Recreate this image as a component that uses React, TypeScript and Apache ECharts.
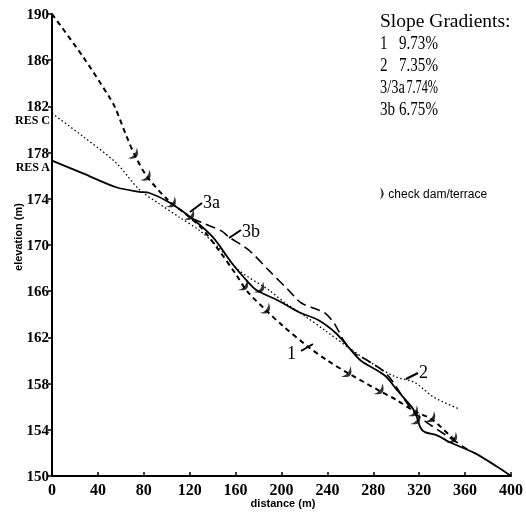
import React, { useEffect, useRef } from "react";
import * as echarts from "echarts";

// elevation base so that the axis starts on a tick (150 is not a multiple of 4)
const BASE = 150;
const X_MIN = 0;
const X_MAX = 400;
const X_INTERVAL = 40;
const Y_MIN = 150;
const Y_MAX = 190;
const Y_INTERVAL = 4;

// Profile 3 / 3a (solid)
const profile3a: [number, number][] = [
  [0, 177.3], [27, 176.2], [56, 175.0], [76, 174.6], [85, 174.5], [102, 173.7],
  [122, 172.3], [140, 170.7], [157, 168.4], [169, 167.0], [178, 166.1], [197, 165.2],
  [215, 164.2], [232, 163.5], [247, 162.4], [258, 161.2], [269, 160.0], [290, 158.7],
  [301, 157.4], [314, 155.9], [318, 155.1], [321, 154.2], [325, 153.8], [336, 153.5],
  [347, 152.9], [368, 152.0], [388, 150.8], [400, 150.0],
];

// Profile 3b (long dashes)
const profile3b: [number, number][] = [
  [122, 172.3], [134, 171.8], [148, 171.2], [154, 170.7], [171, 169.6], [189, 167.8],
  [206, 166.1], [217, 165.0], [229, 164.5], [238, 164.1], [246, 163.2], [255, 161.6],
  [264, 160.6], [275, 160.0], [292, 158.8], [316, 155.5], [353, 152.9], [362, 152.3],
];

// Profile 1 (short dashes)
const profile1: [number, number][] = [
  [0, 190.0], [27, 186.3], [50, 182.8], [55, 181.9], [65, 179.4], [72, 177.8],
  [83, 175.9], [101, 173.9], [115, 172.8], [130, 171.5], [145, 169.6], [160, 167.5],
  [170, 166.0], [187, 164.3], [200, 163.1], [223, 161.2], [240, 160.0], [258, 158.9],
  [285, 157.4], [300, 156.6], [316, 155.6], [331, 154.9], [349, 153.3], [352, 153.1],
];

// Profile 2 (dotted)
const profile2: [number, number][] = [
  [0, 181.4], [27, 179.4], [56, 177.1], [76, 174.8], [93, 173.6], [111, 172.4],
  [128, 171.3], [145, 169.8], [163, 167.8], [189, 166.1], [203, 165.0], [221, 163.8],
  [238, 162.6], [260, 161.0], [278, 159.8], [299, 158.6], [316, 158.1], [333, 156.8],
  [355, 155.8],
];

// check dams / terraces
const checkDams: [number, number][] = [
  [72, 177.8], [83, 175.9], [105, 173.6], [121, 172.5], [168, 166.4], [182, 166.2],
  [187, 164.4], [258, 158.9], [286, 157.4], [316, 155.5], [318, 154.8], [331, 155.0],
  [350, 153.2],
];

const gradientLabels = ["1", "2", "3/3a", "3b"];
const gradientValues = ["9.73%", "7.35%", "7.74%", "6.75%"];

const shift = (pts: [number, number][]) => pts.map(([x, y]) => [x, y - BASE]);

const SERIF = "'Liberation Serif', 'DejaVu Serif', serif";
const SANS = "'Liberation Sans', Arial, sans-serif";
const DAM = "path://M0,0 Q8,7 0,14 Q3.5,7 0,0 Z";

export default function App() {
  const ref = useRef<HTMLDivElement>(null);
  useEffect(() => {
    if (!ref.current) return;
    const chart = echarts.init(ref.current, undefined, { renderer: "svg" });
    const legendRows: any[] = [];
    gradientLabels.forEach((lab, i) => {
      const y = 43 + i * 22;
      const narrow = lab.length > 2;
      legendRows.push({
        type: "text", x: 380, y, scaleX: narrow ? 0.8 : 0.84,
        style: { text: lab, font: `18px ${SERIF}`, fill: "#000", textVerticalAlign: "middle" },
      });
      legendRows.push({
        type: "text", x: 438, y, scaleX: narrow ? 0.68 : 0.84,
        style: { text: gradientValues[i], font: `18px ${SERIF}`, fill: "#000", textAlign: "right", textVerticalAlign: "middle" },
      });
    });
    const line = (x1: number, y1: number, x2: number, y2: number) => ({
      type: "line", shape: { x1, y1, x2, y2 }, style: { stroke: "#000", lineWidth: 2 },
    });
    const note = (text: string, x: number, y: number) => ({
      type: "text", x, y,
      style: { text, font: `18px ${SERIF}`, fill: "#000", textVerticalAlign: "middle" },
    });
    chart.setOption({
      animation: false,
      grid: { left: 52, right: 12, top: 14, bottom: 36, containLabel: false },
      xAxis: {
        type: "value", min: X_MIN, max: X_MAX, interval: X_INTERVAL,
        axisLine: { lineStyle: { color: "#000", width: 2 } },
        axisTick: { inside: true, length: 4, lineStyle: { color: "#000", width: 1.5 } },
        splitLine: { show: false },
        axisLabel: { color: "#000", fontFamily: SERIF, fontSize: 16, fontWeight: "bold", margin: 5 },
      },
      yAxis: {
        type: "value", min: Y_MIN - BASE, max: Y_MAX - BASE, interval: Y_INTERVAL,
        axisLine: { show: true, lineStyle: { color: "#000", width: 2 } },
        axisTick: { show: true, inside: false, length: 4, lineStyle: { color: "#000", width: 1.5 } },
        splitLine: { show: false },
        axisLabel: {
          color: "#000", fontFamily: SERIF, fontSize: 15, fontWeight: "bold", margin: 3,
          formatter: (v: number) => String(v + BASE),
        },
      },
      legend: {
        data: ["check dam/terrace"], left: 375, top: 182, itemWidth: 7, itemHeight: 13,
        itemGap: 4, textStyle: { fontFamily: SANS, fontSize: 12, color: "#000", padding: [0, 0, 0, -2] },
      },
      series: [
        {
          name: "2", type: "line", data: shift(profile2), showSymbol: false, smooth: 0.3,
          lineStyle: { color: "#000", width: 1.3, type: [1.5, 2.5] },
        },
        {
          name: "1", type: "line", data: shift(profile1), showSymbol: false, smooth: 0.3,
          lineStyle: { color: "#000", width: 2, type: [5, 4] },
        },
        {
          name: "3b", type: "line", data: shift(profile3b), showSymbol: false, smooth: 0.3,
          lineStyle: { color: "#000", width: 1.6, type: [10, 5] },
        },
        {
          name: "3/3a", type: "line", data: shift(profile3a), showSymbol: false, smooth: 0.3,
          lineStyle: { color: "#000", width: 1.8 },
        },
        {
          name: "check dam/terrace", type: "scatter", data: shift(checkDams),
          symbol: DAM, symbolSize: [6, 14], symbolRotate: -40, symbolKeepAspect: false,
          itemStyle: { color: "#000" },
        },
      ],
      graphic: [
        { type: "text", x: 380, y: 20, style: { text: "Slope Gradients:", font: `19.5px ${SERIF}`, fill: "#000", textVerticalAlign: "middle" } },
        ...legendRows,
        { type: "text", x: 50, y: 120, style: { text: "RES C", font: `bold 12px ${SERIF}`, fill: "#000", textAlign: "right", textVerticalAlign: "middle" } },
        { type: "text", x: 50, y: 167, style: { text: "RES A", font: `bold 12px ${SERIF}`, fill: "#000", textAlign: "right", textVerticalAlign: "middle" } },
        {
          type: "text", x: 18, y: 237, rotation: Math.PI / 2,
          style: { text: "elevation (m)", font: `bold 11px ${SANS}`, fill: "#000", textAlign: "center", textVerticalAlign: "middle" },
        },
        {
          type: "text", x: 283, y: 503,
          style: { text: "distance (m)", font: `bold 11px ${SANS}`, fill: "#000", textAlign: "center", textVerticalAlign: "middle" },
        },
        line(190, 212, 202, 203), note("3a", 203, 202),
        line(229, 238, 241, 230), note("3b", 242, 231),
        line(301, 351, 313, 344), note("1", 287, 353),
        line(406, 379, 418, 373), note("2", 419, 372),
      ],
    });
    return () => chart.dispose();
  }, []);
  return <div ref={ref} style={{ position: "fixed", left: 0, top: 0, width: 526, height: 512 }} />;
}
